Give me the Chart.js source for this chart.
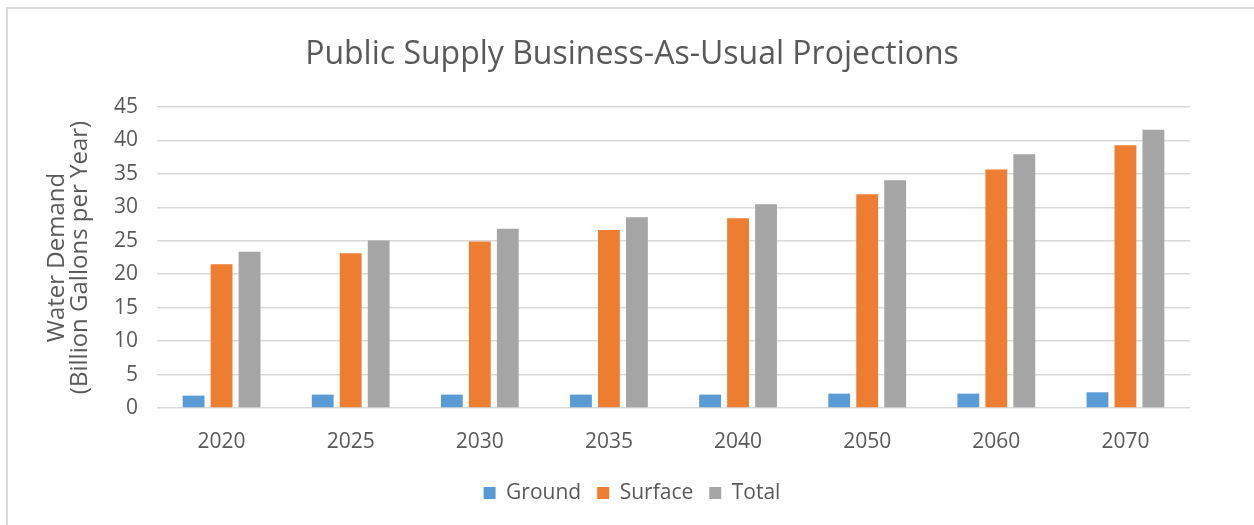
<!DOCTYPE html>
<html>
<head>
<meta charset="utf-8">
<script src="https://cdn.jsdelivr.net/npm/chart.js@4/dist/chart.umd.min.js"></script>
<style>
  html, body { margin: 0; padding: 0; background: #fff; }
  #wrap { position: relative; width: 1254px; height: 525px; }
  #frame { position: absolute; left: 6px; top: 7px; width: 1260px; height: 530px;
           border-top: 2px solid #d9d9d9; border-left: 2px solid #d9d9d9; pointer-events: none; }
  canvas { position: absolute; left: 0; top: 0; }
</style>
</head>
<body>
<div id="wrap">
  <canvas id="chart" width="1254" height="525"></canvas>
  <div id="frame"></div>
</div>
<script>
// --- Data ---
const years = ['2020', '2025', '2030', '2035', '2040', '2050', '2060', '2070'];
const ground = [1.85, 2.0, 2.0, 2.0, 2.0, 2.15, 2.15, 2.35];
const surface = [21.5, 23.15, 24.9, 26.6, 28.35, 31.95, 35.65, 39.3];
const total = [23.35, 25.05, 26.8, 28.5, 30.45, 34.05, 37.95, 41.6];
const yTicks = [0, 5, 10, 15, 20, 25, 30, 35, 40, 45];

const textColor = '#595959';
const fontFamily = '"Open Sans", sans-serif';

const ctx = document.getElementById('chart').getContext('2d');

new Chart(ctx, {
    type: 'bar',
    data: {
        labels: years,
        datasets: [
            { label: 'Ground', data: ground, backgroundColor: '#5b9bd5' },
            { label: 'Surface', data: surface, backgroundColor: '#ed7d31' },
            { label: 'Total', data: total, backgroundColor: '#a5a5a5' }
        ]
    },
    options: {
        responsive: false,
        animation: false,
        devicePixelRatio: 1,
        layout: { padding: { left: 10, right: 0, top: 0, bottom: 11.5 } },
        datasets: {
            bar: { categoryPercentage: 0.65, barPercentage: 0.78 }
        },
        scales: {
            x: {
                afterFit: (scale) => { scale.height = 58.5; },
                grid: { display: false, drawTicks: false },
                border: { display: false },
                ticks: { color: textColor, font: { family: fontFamily, size: 21 }, padding: 21 }
            },
            y: {
                min: 0,
                max: 45,
                afterBuildTicks: (scale) => { scale.ticks = yTicks.map(v => ({ value: v })); },
                afterFit: (scale) => { scale.width = 147; },
                grid: { color: '#d9d9d9', lineWidth: 1.5, drawTicks: false },
                border: { display: false },
                ticks: { color: textColor, font: { family: fontFamily, size: 21 }, padding: 19 },
                title: {
                    display: true,
                    text: ['Water Demand', '(Billion Gallons per Year)'],
                    color: textColor,
                    font: { family: fontFamily, size: 24, lineHeight: 0.96 },
                    padding: { top: 35.5, bottom: 0 }
                }
            },
            // empty axis on the right, only to keep the plot clear of the right edge
            yRight: {
                position: 'right',
                afterFit: (scale) => { scale.width = 64; },
                grid: { display: false, drawTicks: false },
                border: { display: false },
                ticks: { display: false }
            }
        },
        plugins: {
            title: {
                display: true,
                text: 'Public Supply Business-As-Usual Projections',
                color: textColor,
                font: { family: fontFamily, size: 32, weight: 'normal' },
                padding: { top: 36, bottom: 32.6 }
            },
            legend: {
                position: 'bottom',
                labels: {
                    color: textColor,
                    font: { family: fontFamily, size: 21 },
                    boxWidth: 12,
                    boxHeight: 12,
                    padding: 16
                }
            },
            tooltip: { enabled: false }
        }
    }
});
</script>
</body>
</html>
